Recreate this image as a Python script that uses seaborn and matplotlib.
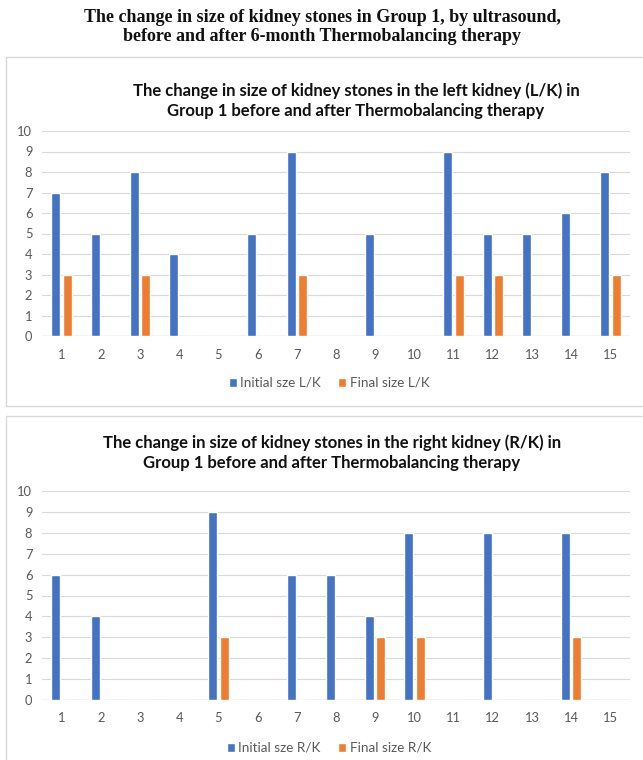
import numpy as np
import pandas as pd
import matplotlib
matplotlib.use("Agg")
import matplotlib.pyplot as plt
from matplotlib.patches import Rectangle
import seaborn as sns

# ---- data ----
categories = [str(i) for i in range(1, 16)]
left_initial = [7, 5, 8, 4, 0, 5, 9, 0, 5, 0, 9, 5, 5, 6, 8]
left_final = [3, 0, 3, 0, 0, 0, 3, 0, 0, 0, 3, 3, 0, 0, 3]
right_initial = [6, 4, 0, 0, 9, 0, 6, 6, 4, 8, 0, 8, 0, 8, 0]
right_final = [0, 0, 0, 0, 3, 0, 0, 0, 3, 3, 0, 0, 0, 3, 0]
yticks = list(range(0, 11))

main_title = ("The change in size of kidney stones in Group 1, by ultrasound,\n"
              "before and after 6-month Thermobalancing therapy")
left_title = ("The change in size of kidney stones in the left kidney (L/K) in\n"
              "Group 1 before and after Thermobalancing therapy")
right_title = ("The change in size of kidney stones in the right kidney (R/K) in\n"
               "Group 1 before and after Thermobalancing therapy")

BLUE = "#4472C4"
ORANGE = "#ED7D31"
GRID = "#D9D9D9"
TXT = "#595959"

sns.set_theme(style="white")
plt.rcParams["font.family"] = ["Lato", "DejaVu Sans"]

W, H = 643, 760
fig = plt.figure(figsize=(W / 100, H / 100), dpi=100)
fig.patch.set_facecolor("white")


def fx(px):
    return px / W


def fy(py):
    return 1 - py / H


# panel borders
for (x0, y0, x1, y1) in [(6, 57, 660, 406), (6, 416, 660, 790)]:
    fig.patches.append(Rectangle((fx(x0), fy(y1)), fx(x1) - fx(x0), fy(y0) - fy(y1),
                                 transform=fig.transFigure, fill=False,
                                 edgecolor=GRID, linewidth=1.0, zorder=0))

fig.text(fx(322), fy(27), main_title, ha="center", va="center",
         family=["Liberation Serif", "DejaVu Serif"], fontweight="bold",
         fontsize=13, linespacing=1.2, color="#111111")


def panel(top_px, bot_px, title, title_y, title_x, init, fin, s1, s2, leg_y):
    ax = fig.add_axes([fx(42), fy(bot_px), fx(630) - fx(42), fy(top_px) - fy(bot_px)])
    df = pd.DataFrame({
        "cat": categories * 2,
        "val": list(init) + list(fin),
        "series": [s1] * len(categories) + [s2] * len(categories),
    })
    sns.barplot(data=df, x="cat", y="val", hue="series", order=categories,
                hue_order=[s1, s2], palette=[BLUE, ORANGE], width=0.58, gap=0.22,
                saturation=1, ax=ax, legend=True, zorder=3)
    ax.set_xlim(-0.5, len(categories) - 0.5)
    ax.set_ylim(0, 10)
    ax.set_yticks(yticks)
    ax.set_xlabel("")
    ax.set_ylabel("")
    for s in ax.spines.values():
        s.set_visible(False)
    ax.grid(axis="y", color=GRID, linewidth=0.8, zorder=0)
    ax.set_axisbelow(True)
    ax.axhline(0, color="#BFBFBF", linewidth=0.9, zorder=2)
    ax.tick_params(axis="both", length=0, labelsize=9.3, labelcolor=TXT)
    ax.tick_params(axis="y", pad=7)
    ax.tick_params(axis="x", pad=9)
    handles, labels = ax.get_legend_handles_labels()
    ax.get_legend().remove()
    fig.legend(handles, labels, loc="center", bbox_to_anchor=(fx(329), fy(leg_y)),
               ncol=2, frameon=False, fontsize=9.7, handlelength=0.6,
               handleheight=0.6, handletextpad=0.25, columnspacing=1.3,
               labelcolor=TXT)
    fig.text(fx(title_x), fy(title_y), title, ha="center", va="center",
             fontweight="bold", fontsize=12, linespacing=1.3, color="#111111")
    return ax


panel(131, 336, left_title, 101, 356, left_initial, left_final,
      "Initial sze L/K", "Final size L/K", 383)
panel(491, 700, right_title, 453, 332, right_initial, right_final,
      "Initial sze R/K", "Final size R/K", 748)

fig.savefig("out.png", dpi=100)
